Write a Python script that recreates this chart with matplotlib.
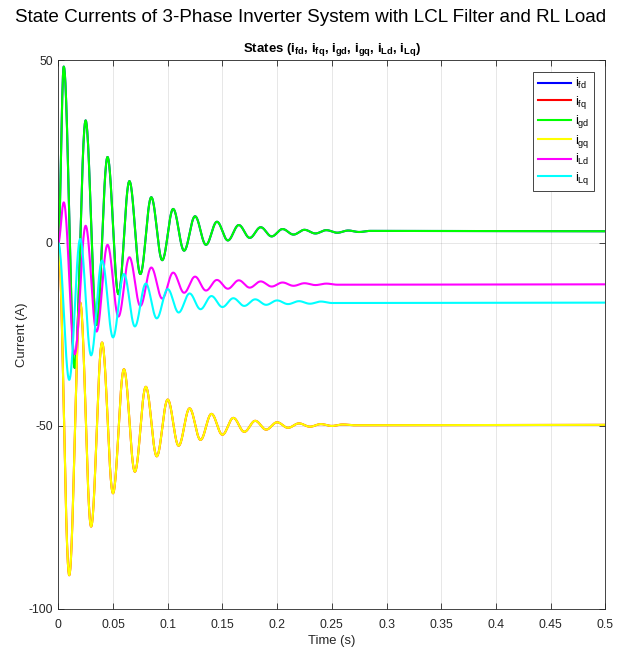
import numpy as np
import matplotlib
matplotlib.use("Agg")
import matplotlib.pyplot as plt

plt.rcParams['font.family'] = ['Liberation Sans', 'DejaVu Sans']
plt.rcParams['mathtext.fontset'] = 'custom'
plt.rcParams['mathtext.rm'] = 'Liberation Sans'
plt.rcParams['mathtext.it'] = 'Liberation Sans:italic'
plt.rcParams['mathtext.bf'] = 'Liberation Sans:bold'
plt.rcParams['axes.unicode_minus'] = False

# peak/valley samples of each state current (s, A), starting from rest at t=0
t_gd = [0, 0.005, 0.015, 0.025, 0.035, 0.045, 0.055, 0.065, 0.075, 0.085, 0.095,
        0.105, 0.115, 0.125, 0.135, 0.145, 0.155, 0.165, 0.175, 0.185, 0.195,
        0.205, 0.215, 0.225, 0.235, 0.245, 0.255, 0.265, 0.275, 0.285, 0.5]
i_gd = [0, 48.2, -34.1, 33.5, -22.4, 23.5, -14.0, 16.9, -8.5, 12.5, -4.7,
        9.3, -2.1, 7.3, -0.5, 5.8, 0.7, 4.9, 1.4, 4.3, 1.8,
        3.8, 2.3, 3.6, 2.6, 3.5, 2.8, 3.4, 3.0, 3.3, 3.2]

t_Ld = [0, 0.005, 0.015, 0.025, 0.035, 0.045, 0.055, 0.065, 0.075, 0.085, 0.095,
        0.105, 0.115, 0.125, 0.135, 0.145, 0.155, 0.165, 0.175, 0.185, 0.195,
        0.205, 0.215, 0.225, 0.235, 0.245, 0.255, 0.5]
i_Ld = [0, 11.1, -30.4, 4.7, -24.2, -0.5, -20.1, -3.9, -17.2, -6.7, -15.2,
        -8.1, -13.6, -9.2, -13.0, -10.1, -12.5, -10.2, -12.2, -10.5, -11.9,
        -10.8, -11.7, -11.0, -11.5, -11.1, -11.4, -11.3]

t_Lq = [0, 0.01, 0.02, 0.03, 0.04, 0.05, 0.06, 0.07, 0.08, 0.09, 0.10,
        0.11, 0.12, 0.13, 0.14, 0.15, 0.16, 0.17, 0.18, 0.19, 0.20,
        0.21, 0.22, 0.23, 0.24, 0.25, 0.5]
i_Lq = [0, -37.4, 1.1, -30.7, -4.8, -25.8, -8.5, -22.8, -11.1, -20.6, -12.6,
        -19.0, -13.8, -18.1, -14.5, -17.5, -15.1, -17.2, -15.4, -16.9, -15.7,
        -16.7, -15.9, -16.6, -16.0, -16.4, -16.3]

t_gq = [0, 0.01, 0.02, 0.03, 0.04, 0.05, 0.06, 0.07, 0.08, 0.09, 0.10,
        0.11, 0.12, 0.13, 0.14, 0.15, 0.16, 0.17, 0.18, 0.19, 0.20,
        0.21, 0.22, 0.23, 0.24, 0.25, 0.26, 0.27, 0.5]
i_gq = [0, -90.8, -16.3, -77.5, -27.2, -68.4, -34.5, -62.5, -39.3, -58.3, -42.8,
        -55.4, -45.2, -53.8, -46.7, -52.4, -47.8, -51.6, -48.6, -51.0, -49.0,
        -50.5, -49.3, -50.2, -49.5, -50.0, -49.6, -49.8, -49.7]

# inverter-side currents sit on top of the grid-side ones
t_fd, i_fd = list(t_gd), list(i_gd)
t_fq, i_fq = list(t_gq), list(i_gq)

labels = [r'$\mathregular{i_{fd}}$', r'$\mathregular{i_{fq}}$', r'$\mathregular{i_{gd}}$',
          r'$\mathregular{i_{gq}}$', r'$\mathregular{i_{Ld}}$', r'$\mathregular{i_{Lq}}$']
colors = ['#0000ff', '#ff0000', '#00ff00', '#ffff00', '#ff00ff', '#00ffff']


def smooth(tk, vk, n=40):
    # cosine-shaped segments between successive extrema
    tt, vv = [], []
    for a in range(len(tk) - 1):
        s = np.linspace(0, 1, n, endpoint=False)
        w = (1 - np.cos(np.pi * s)) / 2
        tt.append(tk[a] + (tk[a + 1] - tk[a]) * s)
        vv.append(vk[a] + (vk[a + 1] - vk[a]) * w)
    tt.append([tk[-1]])
    vv.append([vk[-1]])
    return np.concatenate(tt), np.concatenate(vv)


fig = plt.figure(figsize=(6.22, 6.48), dpi=100)
ax = fig.add_axes([0.0937, 0.0603, 0.8795, 0.8471])

series = [(t_fd, i_fd), (t_fq, i_fq), (t_gd, i_gd), (t_gq, i_gq), (t_Ld, i_Ld), (t_Lq, i_Lq)]
for (tk, vk), c, lab in zip(series, colors, labels):
    x, y = smooth(tk, vk)
    ax.plot(x, y, color=c, lw=1.5, label=lab)

ax.set_xlim(0, 0.5)
ax.set_ylim(-100, 50)
ax.set_xticks(np.arange(0, 0.51, 0.05))
ax.set_xticklabels(['0', '0.05', '0.1', '0.15', '0.2', '0.25', '0.3', '0.35', '0.4', '0.45', '0.5'])
ax.set_yticks([-100, -50, 0, 50])
ax.grid(True, color='#262626', alpha=0.13, lw=0.6)
ax.tick_params(axis='both', direction='in', length=4, width=0.6, top=True, right=True,
               labelsize=8.8, colors='#262626')
ax.tick_params(axis='x', pad=7)
ax.tick_params(axis='y', pad=4)
for sp in ax.spines.values():
    sp.set_color('#262626')
    sp.set_linewidth(0.6)

ax.set_xlabel('Time (s)', fontsize=9.4, color='#262626', labelpad=3)
ax.set_ylabel('Current (A)', fontsize=9.4, color='#262626', labelpad=0.5)
ax.set_title(r'States ($\mathbf{i_{fd}}$, $\mathbf{i_{fq}}$, $\mathbf{i_{gd}}$, '
             r'$\mathbf{i_{gq}}$, $\mathbf{i_{Ld}}$, $\mathbf{i_{Lq}}$)',
             fontsize=9.5, fontweight='bold', pad=6)
fig.suptitle('State Currents of 3-Phase Inverter System with LCL Filter and RL Load',
             fontsize=13.6, y=0.986)

leg = ax.legend(loc='upper right', fontsize=9.2, fancybox=False, framealpha=1,
                edgecolor='#262626', handlelength=2.6, handletextpad=0.3,
                borderaxespad=0.9, labelspacing=0.2, borderpad=0.35)
leg.get_frame().set_linewidth(0.6)

fig.savefig('out.png', dpi=100)
